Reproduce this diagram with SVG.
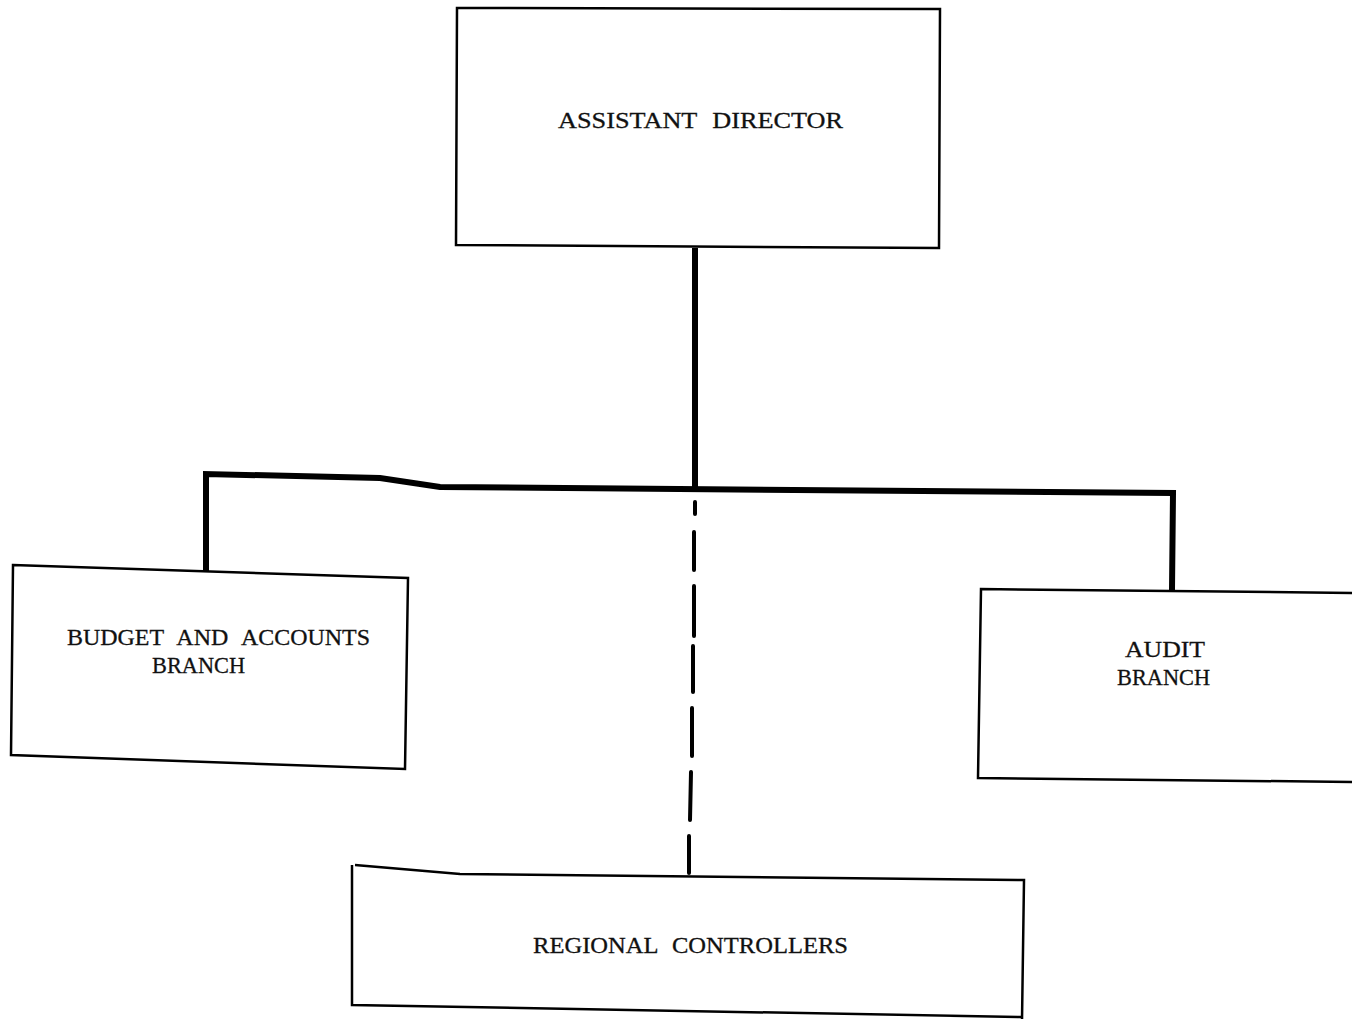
<svg xmlns="http://www.w3.org/2000/svg" width="1352" height="1019" viewBox="0 0 1352 1019">
<style>
.box{fill:none;stroke:#000;stroke-width:2.5;stroke-linejoin:miter}
.lbl{font-family:"Liberation Serif","Times New Roman",serif;font-size:24px;fill:#111;stroke:#111;stroke-width:0.3;word-spacing:8px}
.solid{fill:none;stroke:#000;stroke-width:6;stroke-linejoin:miter}
.dash{fill:none;stroke:#000;stroke-width:4;stroke-linecap:round}
</style>
<rect width="1352" height="1019" fill="#fff"/>
<g id="connectors">
<path class="solid" d="M695,248 L695,488"/>
<path class="solid" d="M206,572 L206,474 L380,478 L440,487 L1173,493 L1172,590"/>
<path class="dash" d="M695,502 L695,514 M694,532 L694,570 M694,586 L694,636 M693,646 L693,692 M692,708 L692,756 M691,772 L690,820 M689,836 L689,873"/>
</g>
<g id="assistant-director">
<polygon class="box" points="457,8 940,9 939,248 456,245"/>
<text class="lbl" x="558" y="128" textLength="285" lengthAdjust="spacingAndGlyphs">ASSISTANT DIRECTOR</text>
</g>
<g id="budget-accounts-branch">
<polygon class="box" points="13,565 408,578 405,769 11,755"/>
<text class="lbl" x="67" y="645" textLength="303" lengthAdjust="spacingAndGlyphs">BUDGET AND ACCOUNTS</text>
<text class="lbl" x="152" y="673" textLength="93" lengthAdjust="spacingAndGlyphs">BRANCH</text>
</g>
<g id="audit-branch">
<polyline class="box" points="1354,593 981,589 978,778 1354,782"/>
<text class="lbl" x="1125" y="657" textLength="80" lengthAdjust="spacingAndGlyphs">AUDIT</text>
<text class="lbl" x="1117" y="685" textLength="93" lengthAdjust="spacingAndGlyphs">BRANCH</text>
</g>
<g id="regional-controllers">
<path class="box" d="M355,865 L460,874 L1024,880 L1022,1021 M352,865 L352,1005 L1022,1017"/>
<text class="lbl" x="533" y="953" textLength="315" lengthAdjust="spacingAndGlyphs">REGIONAL CONTROLLERS</text>
</g>
</svg>
